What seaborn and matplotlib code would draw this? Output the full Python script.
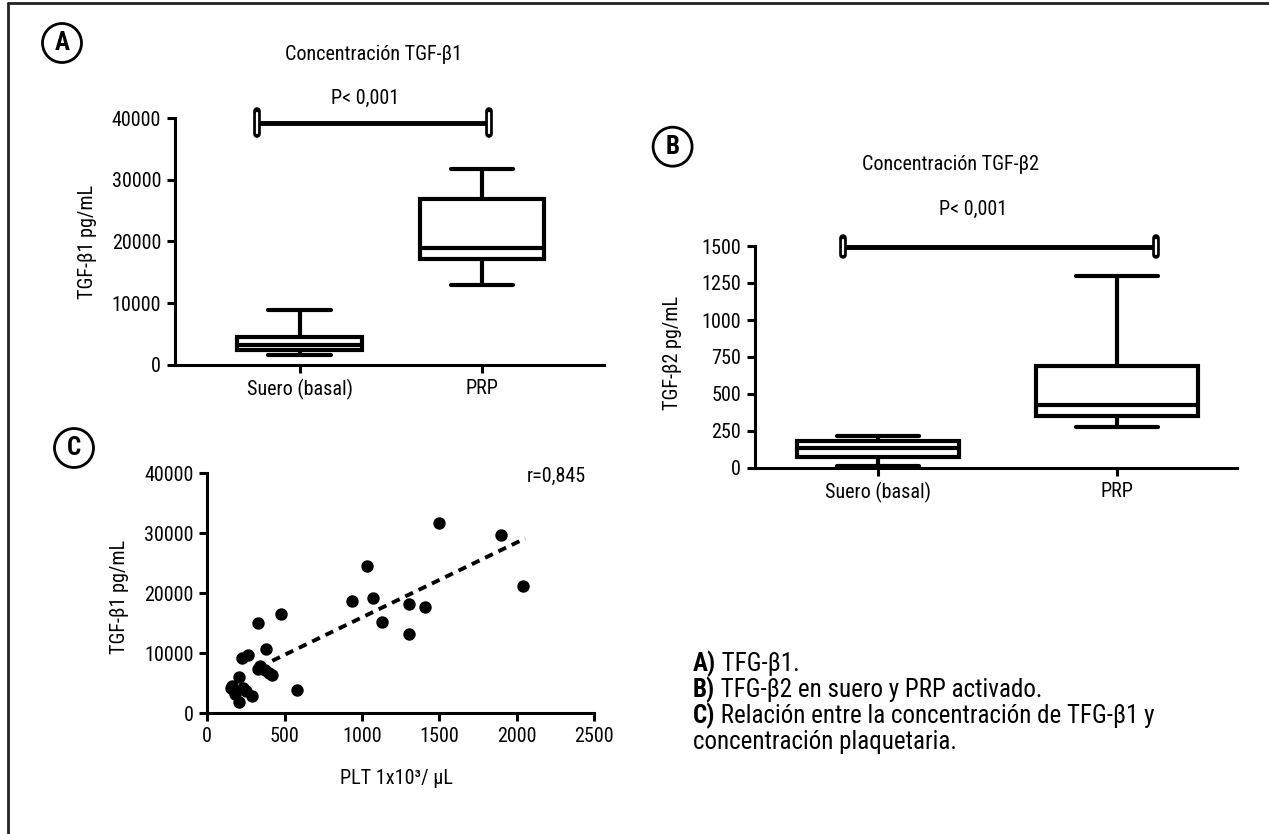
import numpy as np
import pandas as pd
import matplotlib
matplotlib.use("Agg")
import matplotlib.pyplot as plt
import seaborn as sns
from matplotlib.lines import Line2D
from matplotlib import font_manager as fm

# ---------------- data ----------------
groups = ["Suero (basal)", "PRP"]
# five-number summaries: min, Q1, median, Q3, max
tgfb1_suero = [1650, 2450, 3250, 4500, 8950]
tgfb1_prp = [12950, 17100, 18950, 26900, 31700]
tgfb2_suero = [12, 74, 133, 185, 219]
tgfb2_prp = [277, 352, 425, 686, 1298]

plt_count = [1495, 1900, 2040, 1035, 935, 1070, 1130, 1305, 1410, 1305,
             580, 475, 325, 378, 225, 262, 340, 325, 375, 398,
             420, 203, 150, 230, 180, 290, 203, 250, 160]
tgfb1_conc = [31700, 29700, 21200, 24600, 18700, 19300, 15300, 18300, 17800, 13200,
              3900, 16500, 15000, 10800, 9300, 9700, 7900, 7400, 7200, 6700,
              6400, 6000, 4200, 4300, 3300, 2900, 1900, 3700, 4600]
trend_x = [420, 2055]
trend_y = [8750, 29150]

yticks_a = [0, 10000, 20000, 30000, 40000]
yticks_b = [0, 250, 500, 750, 1000, 1250, 1500]
xticks_c = [0, 500, 1000, 1500, 2000, 2500]
yticks_c = [0, 10000, 20000, 30000, 40000]
sig_a = 39240
sig_b = 1495
p_text = "P< 0,001"
r_text = "r=0,845"

# ---------------- style ----------------
sns.set_style("ticks")
installed = {f.name for f in fm.fontManager.ttflist}
main_font = "DejaVu Sans"
for cand in ["Liberation Sans Narrow", "Roboto Condensed", "Fira Sans Condensed",
             "IBM Plex Sans Condensed", "Archivo Narrow"]:
    if cand in installed:
        main_font = cand
        break
plt.rcParams["font.family"] = [main_font, "DejaVu Sans"]
plt.rcParams["text.color"] = "black"
plt.rcParams["axes.labelcolor"] = "black"

W, H = 1269, 834
fig = plt.figure(figsize=(W / 100, H / 100), dpi=100)


def rect(x0, x1, ytop, ybot):
    return [x0 / W, 1 - ybot / H, (x1 - x0) / W, (ybot - ytop) / H]


def fx(x):
    return x / W


def fy(y):
    return 1 - y / H


axA = fig.add_axes(rect(175, 604, 118, 365))
axB = fig.add_axes(rect(755, 1237, 246, 468))
axC = fig.add_axes(rect(207.3, 594, 473.3, 713.3))

LW = 3.0
FS = 14.5


def box_panel(ax, s1, s2):
    df = pd.DataFrame({"grupo": [groups[0]] * len(s1) + [groups[1]] * len(s2),
                       "valor": s1 + s2})
    sns.boxplot(data=df, x="grupo", y="valor", order=groups, ax=ax,
                color="white", linecolor="black", linewidth=LW, width=0.68,
                whis=(0, 100), showfliers=False)


def style_axes(ax):
    for s in ["top", "right"]:
        ax.spines[s].set_visible(False)
    for s in ["left", "bottom"]:
        ax.spines[s].set_linewidth(2.2)
        ax.spines[s].set_color("black")
    ax.tick_params(direction="out", length=6, width=2.2, labelsize=FS,
                   colors="black", pad=4)
    ax.set_facecolor("none")


def sig_bar(ax, x0, x1, y, half):
    ax.plot([x0, x1], [y, y], color="black", lw=3.5, clip_on=False,
            solid_capstyle="butt", zorder=5)
    for xx in (x0, x1):
        ax.plot([xx, xx], [y - half, y + half], color="black", lw=5.5,
                solid_capstyle="round", clip_on=False, zorder=6)
        ax.plot([xx, xx], [y - half * 0.85, y + half * 0.85], color="white",
                lw=1.6, solid_capstyle="round", clip_on=False, zorder=7)


# ---- Panel A ----
box_panel(axA, tgfb1_suero, tgfb1_prp)
style_axes(axA)
axA.set_xlim(-0.682, 1.668)
axA.set_ylim(0, 40000)
axA.set_yticks(yticks_a)
axA.set_xlabel("")
axA.set_ylabel("TGF-β1 pg/mL", fontsize=FS, va="center")
axA.yaxis.set_label_coords(-0.203, 0.5)
sig_bar(axA, -0.235, 1.037, sig_a, 1900)

# ---- Panel B ----
box_panel(axB, tgfb2_suero, tgfb2_prp)
style_axes(axB)
axB.set_xlim(-0.515, 1.502)
axB.set_ylim(0, 1500)
axB.set_yticks(yticks_b)
axB.set_xlabel("")
axB.set_ylabel("TGF-β2 pg/mL", fontsize=FS, va="center")
axB.yaxis.set_label_coords(-0.171, 0.52)
sig_bar(axB, -0.148, 1.165, sig_b, 56)

# ---- Panel C ----
sns.scatterplot(x=plt_count, y=tgfb1_conc, ax=axC, color="black", s=80,
                linewidth=0, zorder=4)
sns.lineplot(x=trend_x, y=trend_y, ax=axC, color="black", lw=2.8,
             linestyle=(0, (2.2, 1.6)), zorder=3)
style_axes(axC)
axC.set_xlim(0, 2500)
axC.set_ylim(0, 40000)
axC.set_xticks(xticks_c)
axC.set_yticks(yticks_c)
axC.set_ylabel("TGF-β1 pg/mL", fontsize=FS, va="center")
axC.yaxis.set_label_coords(-0.228, 0.485)
axC.set_xlabel("PLT 1x10³/ µL", fontsize=FS, va="center")
axC.xaxis.set_label_coords(0.49, -0.27)

# ---- texts ----
fig.text(fx(373.5), fy(55), "Concentración TGF-β1", ha="center", va="center", fontsize=FS)
fig.text(fx(365.6), fy(98), p_text, ha="center", va="center", fontsize=FS)
fig.text(fx(950.6), fy(165), "Concentración TGF-β2", ha="center", va="center", fontsize=FS)
fig.text(fx(973.4), fy(209.3), p_text, ha="center", va="center", fontsize=FS)
fig.text(fx(556.3), fy(476.7), r_text, ha="center", va="center", fontsize=FS)

for lab, (x, y) in zip(["A", "B", "C"], [(62, 43), (672.6, 146.7), (74, 448)]):
    fig.text(fx(x), fy(y), lab, ha="center", va="center", fontsize=18,
             fontweight="bold",
             bbox=dict(boxstyle="circle,pad=0.3", fc="white", ec="black", lw=2))

# caption
cap_lines = [("A)", " TFG-β1."),
             ("B)", " TFG-β2 en suero y PRP activado."),
             ("C)", " Relación entre la concentración de TFG-β1 y"),
             ("", "concentración plaquetaria.")]
renderer = fig.canvas.get_renderer()
for i, (b, t) in enumerate(cap_lines):
    y = fy(664 + 26 * i)
    x = fx(693)
    if b:
        tb = fig.text(x, y, b, ha="left", va="center", fontsize=18, fontweight="bold")
        bb = tb.get_window_extent(renderer=renderer)
        x = bb.x1 / W
    fig.text(x, y, t, ha="left", va="center", fontsize=18)

# frame (top and left edges)
fig.add_artist(Line2D([fx(8), fx(8)], [0, fy(2.5)], transform=fig.transFigure,
                      color="#222222", lw=2))
fig.add_artist(Line2D([fx(8), 1], [fy(2.5), fy(2.5)], transform=fig.transFigure,
                      color="#222222", lw=2))

fig.savefig("out.png", dpi=100, facecolor="white")
